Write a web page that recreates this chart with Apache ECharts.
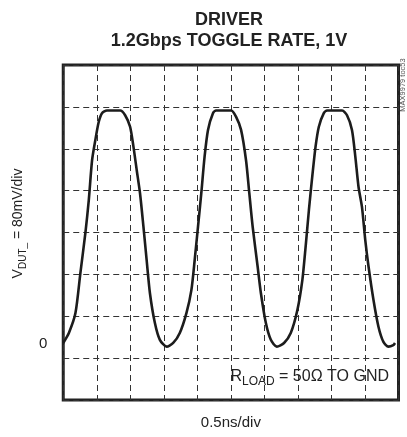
<!DOCTYPE html>
<html>
<head>
<meta charset="utf-8">
<script src="https://cdn.jsdelivr.net/npm/echarts@6/dist/echarts.min.js"></script>
<style>
html,body{margin:0;padding:0;background:#fff;}
#chart{width:407px;height:437px;}
</style>
</head>
<body>
<div id="chart"></div>
<script>
// Time (ns) and voltage (mV)
const timeNs = [0, 0.084, 0.182, 0.256, 0.330, 0.381, 0.430, 0.479, 0.529, 0.578, 0.652, 0.849, 0.923, 0.997, 1.047, 1.096, 1.145, 1.196, 1.244, 1.293, 1.367, 1.441, 1.541, 1.640, 1.738, 1.837, 1.911, 1.960, 2.010, 2.059, 2.108, 2.159, 2.233, 2.281, 2.504, 2.578, 2.652, 2.726, 2.775, 2.825, 2.899, 2.948, 3.022, 3.096, 3.185, 3.293, 3.393, 3.492, 3.566, 3.615, 3.664, 3.714, 3.763, 3.812, 3.886, 3.936, 4.158, 4.232, 4.306, 4.356, 4.404, 4.455, 4.504, 4.553, 4.627, 4.701, 4.775, 4.849, 4.923, 4.948];
const voltsMv = [2, 21, 59, 136, 212, 275, 351, 390, 424, 441, 446, 446, 437, 415, 377, 332, 288, 224, 160, 97, 40, 8, -5, 2, 21, 59, 103, 160, 224, 288, 358, 409, 441, 446, 446, 434, 409, 351, 288, 224, 148, 97, 40, 8, -5, 2, 21, 65, 122, 186, 256, 320, 377, 415, 441, 446, 446, 437, 409, 358, 300, 262, 199, 148, 84, 33, 4, -5, -2, 2];
const yTickLabels = [0];
const titleLines = ['DRIVER', '1.2Gbps TOGGLE RATE, 1V'];
const xAxisName = '0.5ns/div';
const loadNote = 'R{sub|LOAD} = 50Ω TO GND';
const yAxisName = 'V{sub|DUT_} = 80mV/div';
const tocNote = 'MAX9979 toc53';

const FONT = "'Liberation Sans', Arial, Helvetica, sans-serif";
const INK = '#222';
const data = timeNs.map((t, i) => [t, voltsMv[i]]);

const chart = echarts.init(document.getElementById('chart'), null, {renderer: 'canvas'});
chart.setOption({
  animation: false,
  backgroundColor: '#fff',
  textStyle: {fontFamily: FONT},
  title: [
    {
      text: titleLines.join('\n'),
      left: 224, top: 5, textAlign: 'center',
      textStyle: {fontFamily: FONT, fontSize: 18, fontWeight: 'bold', color: INK, lineHeight: 21}
    },
    {
      text: loadNote,
      right: 13, top: 361,
      textStyle: {
        fontFamily: FONT, fontSize: 16, fontWeight: 'normal', color: INK, lineHeight: 22,
        rich: {sub: {fontFamily: FONT, fontSize: 12, color: INK, lineHeight: 13, verticalAlign: 'bottom'}}
      }
    }
  ],
  graphic: [{
    type: 'text', x: 403, y: 85, rotation: Math.PI / 2,
    style: {text: tocNote, fontFamily: FONT, fontSize: 7.5, fill: '#555', align: 'center', verticalAlign: 'middle'}
  }],
  grid: {left: 61, right: 8.5, top: 65, bottom: 37, show: true, borderColor: INK, borderWidth: 3, backgroundColor: 'transparent'},
  xAxis: {
    type: 'value', min: 0, max: 5, interval: 0.5,
    name: xAxisName, nameLocation: 'middle', nameGap: 15,
    nameTextStyle: {fontFamily: FONT, fontSize: 15, color: INK},
    axisLine: {show: false}, axisTick: {show: false}, axisLabel: {show: false},
    splitLine: {show: true, lineStyle: {color: '#333', width: 1, type: [6, 4]}}
  },
  yAxis: [
    {
      type: 'value', min: -107, max: 533,
      name: yAxisName, nameLocation: 'middle', nameGap: 24, nameRotate: 90,
      nameTextStyle: {
        fontFamily: FONT, fontSize: 14, color: INK, lineHeight: 20, padding: [0, 0, 0, 18],
        rich: {sub: {fontFamily: FONT, fontSize: 10, color: INK, lineHeight: 11, verticalAlign: 'bottom'}}
      },
      axisLine: {show: false}, axisTick: {show: false},
      axisLabel: {show: true, customValues: yTickLabels, fontFamily: FONT, fontSize: 15, color: INK, margin: 16},
      splitLine: {show: false}
    },
    {
      type: 'value', min: 0, max: 8, interval: 1, position: 'left',
      axisLine: {show: false}, axisTick: {show: false}, axisLabel: {show: false},
      splitLine: {show: true, lineStyle: {color: '#333', width: 1, type: [6, 4]}}
    }
  ],
  series: [{
    type: 'line', yAxisIndex: 0, data: data, smooth: 0.25, symbol: 'none',
    lineStyle: {color: '#1c1c1c', width: 2.6}, z: 5
  }]
});
</script>
</body>
</html>
